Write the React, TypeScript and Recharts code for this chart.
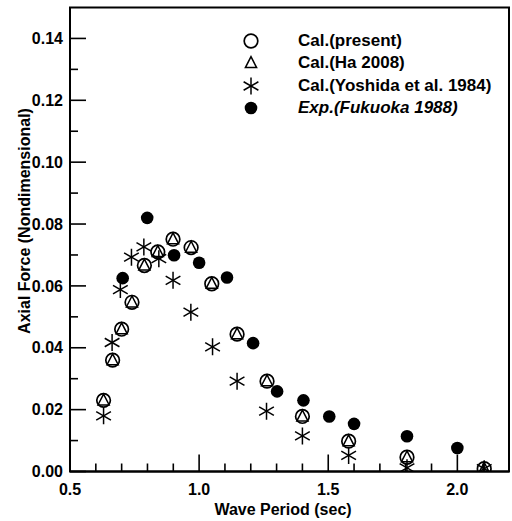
import { Legend, ReferenceArea, Scatter, ScatterChart, XAxis, YAxis } from "recharts";

// wave period (sec) and nondimensional axial force for each series
const presentPeriod = [0.63, 0.665, 0.7, 0.74, 0.788, 0.84, 0.899, 0.969, 1.049, 1.147, 1.263, 1.4, 1.579, 1.805, 2.104];
const presentForce = [0.023, 0.036, 0.046, 0.0547, 0.0666, 0.071, 0.0751, 0.0724, 0.0607, 0.0444, 0.0292, 0.0178, 0.0098, 0.0046, 0.0009];

const haPeriod = [0.63, 0.665, 0.7, 0.74, 0.788, 0.84, 0.899, 0.969, 1.049, 1.147, 1.263, 1.4, 1.579, 1.805, 2.104];
const haForce = [0.023, 0.036, 0.046, 0.0547, 0.0666, 0.071, 0.0751, 0.0724, 0.0607, 0.0444, 0.0292, 0.0178, 0.0098, 0.0046, 0.0009];

const yoshidaPeriod = [0.63, 0.663, 0.695, 0.738, 0.786, 0.844, 0.899, 0.968, 1.052, 1.147, 1.261, 1.4, 1.579, 1.805, 2.104];
const yoshidaForce = [0.018, 0.0417, 0.0588, 0.0693, 0.0726, 0.0688, 0.0618, 0.0515, 0.0403, 0.0292, 0.0195, 0.0115, 0.0052, 0.0012, 0.0009];

const expPeriod = [0.704, 0.799, 0.903, 1.0, 1.108, 1.209, 1.302, 1.404, 1.504, 1.6, 1.805, 2.0];
const expForce = [0.0625, 0.082, 0.0699, 0.0675, 0.0627, 0.0415, 0.0259, 0.023, 0.0178, 0.0154, 0.0114, 0.0076];

const periodTicks = [0.5, 0.6, 0.7, 0.8, 0.9, 1.0, 1.1, 1.2, 1.3, 1.4, 1.5, 1.6, 1.7, 1.8, 1.9, 2.0, 2.1];
const forceTicks = [0, 0.01, 0.02, 0.03, 0.04, 0.05, 0.06, 0.07, 0.08, 0.09, 0.1, 0.11, 0.12, 0.13, 0.14];

const legendLabels = ["Cal.(present)", "Cal.(Ha 2008)", "Cal.(Yoshida et al. 1984)", "Exp.(Fukuoka 1988)"];

const FONT = '"Liberation Sans", Arial, Helvetica, sans-serif';

const toPoints = (xs: number[], ys: number[]) => xs.map((t, i) => ({ t, f: ys[i] }));

const OpenCircle = ({ cx, cy }: any) => <circle cx={cx} cy={cy} r={6.8} fill="none" stroke="#000" strokeWidth={1.7} />;

const Triangle = ({ cx, cy }: any) => (
  <polygon
    points={`${cx},${cy - 6.3} ${cx - 5.6},${cy + 4.6} ${cx + 5.6},${cy + 4.6}`}
    fill="none"
    stroke="#000"
    strokeWidth={1.5}
  />
);

const Star = ({ cx, cy }: any) => {
  const r = 8.5;
  const dx = r * Math.cos(Math.PI / 6);
  const dy = r * Math.sin(Math.PI / 6);
  return (
    <g stroke="#000" strokeWidth={1.5}>
      <line x1={cx} y1={cy - r} x2={cx} y2={cy + r} />
      <line x1={cx - dx} y1={cy - dy} x2={cx + dx} y2={cy + dy} />
      <line x1={cx - dx} y1={cy + dy} x2={cx + dx} y2={cy - dy} />
    </g>
  );
};

const FilledCircle = ({ cx, cy }: any) => <circle cx={cx} cy={cy} r={6.3} fill="#000" />;

const markers = [OpenCircle, Triangle, Star, FilledCircle];

// ticks point into the plot; only the major ones carry a label
const PeriodTick = ({ x, y, payload }: any) => {
  const v = payload.value as number;
  const major = Math.abs(v * 2 - Math.round(v * 2)) < 1e-6;
  return (
    <g>
      <line x1={x} y1={y} x2={x} y2={y - (major ? 17 : 8)} stroke="#000" strokeWidth={1.6} />
      {major && (
        <text x={x} y={y + 23} textAnchor="middle" fontFamily={FONT} fontWeight="bold" fontSize={16} fill="#000">
          {v.toFixed(1)}
        </text>
      )}
    </g>
  );
};

const ForceTick = ({ x, y, payload }: any) => {
  const v = payload.value as number;
  const major = Math.round(v * 100) % 2 === 0;
  return (
    <g>
      <line x1={x} y1={y} x2={x + (major ? 16 : 8)} y2={y} stroke="#000" strokeWidth={1.6} />
      {major && (
        <text x={x - 7} y={y + 5.7} textAnchor="end" fontFamily={FONT} fontWeight="bold" fontSize={16} fill="#000">
          {v.toFixed(2)}
        </text>
      )}
    </g>
  );
};

const ForceTitle = () => {
  const bx = 30;
  const cy = 221;
  return (
    <text
      x={bx}
      y={cy}
      transform={`rotate(-90 ${bx} ${cy})`}
      textAnchor="middle"
      fontFamily={FONT}
      fontWeight="bold"
      fontSize={16}
      fill="#000"
    >
      Axial Force (Nondimensional)
    </text>
  );
};

const PeriodTitle = ({ viewBox }: any) => (
  <text
    x={viewBox.x + viewBox.width / 2 - 6.5}
    y={viewBox.y + 43}
    textAnchor="middle"
    fontFamily={FONT}
    fontWeight="bold"
    fontSize={16}
    fill="#000"
  >
    Wave Period (sec)
  </text>
);

const LegendBox = () => (
  <div style={{ fontFamily: FONT, fontWeight: "bold", fontSize: 17, color: "#000" }}>
    {legendLabels.map((label, i) => {
      const Marker = markers[i];
      return (
        <div key={label} style={{ display: "flex", alignItems: "center", height: 22.5 }}>
          <svg width={20} height={20} style={{ display: "block", flex: "none" }}>
            <Marker cx={10} cy={10} />
          </svg>
          <span style={{ marginLeft: 37, whiteSpace: "nowrap", fontStyle: i === 3 ? "italic" : "normal" }}>{label}</span>
        </div>
      );
    })}
  </div>
);

export default function App() {
  return (
    <div style={{ position: "absolute", left: 0, top: 0, width: 512, height: 521, background: "#fff" }}>
      <ScatterChart width={512} height={521} margin={{ top: 7.5, right: 3, bottom: 4, left: 8 }}>
        <XAxis
          type="number"
          dataKey="t"
          domain={[0.5, 2.2]}
          ticks={periodTicks}
          interval={0}
          tickSize={0}
          tickMargin={0}
          tickLine={false}
          tick={<PeriodTick />}
          axisLine={{ stroke: "#000", strokeWidth: 2 }}
          height={45.5}
          allowDataOverflow
          label={<PeriodTitle />}
        />
        <YAxis
          type="number"
          dataKey="f"
          domain={[0, 0.15]}
          ticks={forceTicks}
          interval={0}
          tickSize={0}
          tickMargin={0}
          tickLine={false}
          tick={<ForceTick />}
          axisLine={{ stroke: "#000", strokeWidth: 2 }}
          width={62}
          allowDataOverflow
          label={<ForceTitle />}
        />
        <ReferenceArea x1={0.5} x2={2.2} y1={0} y2={0.15} fill="none" stroke="#000" strokeWidth={2} />
        <Scatter data={toPoints(presentPeriod, presentForce)} shape={<OpenCircle />} isAnimationActive={false} />
        <Scatter data={toPoints(haPeriod, haForce)} shape={<Triangle />} isAnimationActive={false} />
        <Scatter data={toPoints(yoshidaPeriod, yoshidaForce)} shape={<Star />} isAnimationActive={false} />
        <Scatter data={toPoints(expPeriod, expForce)} shape={<FilledCircle />} isAnimationActive={false} />
        <Legend
          layout="vertical"
          align="center"
          verticalAlign="middle"
          content={<LegendBox />}
          wrapperStyle={{ left: 241, top: 29.25, width: 271, height: 95 }}
        />
      </ScatterChart>
    </div>
  );
}
